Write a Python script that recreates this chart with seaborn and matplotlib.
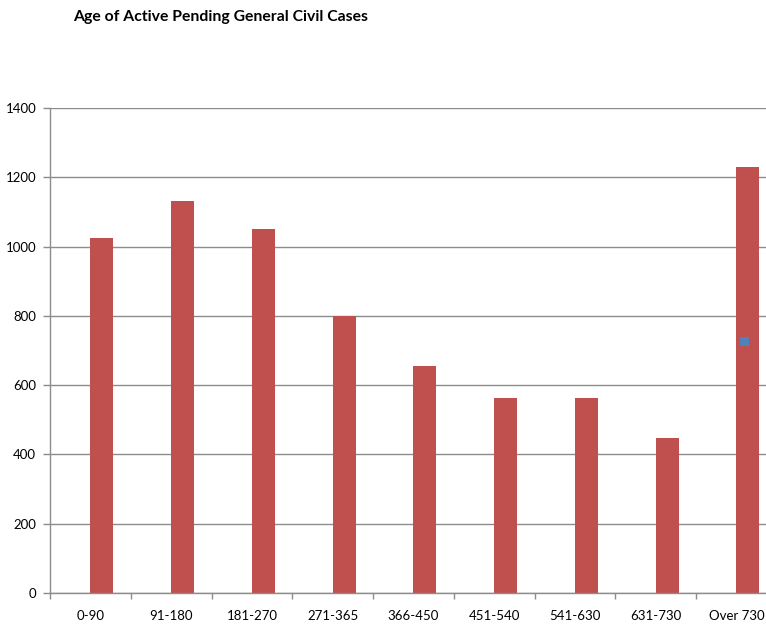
import matplotlib
matplotlib.use("Agg")
import matplotlib.pyplot as plt
from matplotlib.ticker import MultipleLocator, FixedLocator
import seaborn as sns
import pandas as pd

# Age buckets (days) and number of active pending general civil cases
categories = ["0-90", "91-180", "181-270", "271-365", "366-450",
              "451-540", "541-630", "631-730", "Over 730"]
case_counts = [1025, 1132, 1051, 800, 655, 563, 563, 447, 1230]
# secondary series: a single marker point on the last bucket
marker_category = "Over 730"
marker_value = 725

sns.set_theme(style="white")
plt.rcParams["font.family"] = ["Lato", "DejaVu Sans"]

W, H = 766, 624
fig = plt.figure(figsize=(W / 100, H / 100), dpi=100)

left_px, right_px, top_px, bottom_px = 50, 766, 108, 593
ax = fig.add_axes([left_px / W, 1 - bottom_px / H,
                   (right_px - left_px) / W, (bottom_px - top_px) / H])

# two series per category: an empty placeholder and the case counts,
# so the red bar sits just right of the category centre
df = pd.DataFrame({
    "bucket": categories * 2,
    "series": ["placeholder"] * len(categories) + ["cases"] * len(categories),
    "count": [0] * len(categories) + case_counts,
})
sns.barplot(data=df, x="bucket", y="count", hue="series",
            hue_order=["placeholder", "cases"], order=categories,
            palette={"placeholder": (1, 1, 1, 0), "cases": "#C0504D"},
            width=0.57, linewidth=0, saturation=1, legend=False, ax=ax)

# marker series
idx = categories.index(marker_category)
sns.scatterplot(x=[idx + 0.1], y=[marker_value], marker="s", s=40,
                color="#4F81BD", edgecolor="none", ax=ax, zorder=5)

ax.set_ylim(0, 1400)
cat_px = 80.75
ax.set_xlim(-0.5, -0.5 + (right_px - left_px) / cat_px)
ax.yaxis.set_major_locator(MultipleLocator(200))
ax.grid(axis="y", color="#8C8C8C", linewidth=1)
ax.set_axisbelow(True)

for side in ("top", "right"):
    ax.spines[side].set_visible(False)
for side in ("left", "bottom"):
    ax.spines[side].set_color("#8C8C8C")
    ax.spines[side].set_linewidth(1)

ax.set_xlabel("")
ax.set_ylabel("")
ax.tick_params(axis="y", which="major", left=True, length=5, width=1,
               color="#8C8C8C", pad=5, labelsize=9.5, labelcolor="#000000")
ax.tick_params(axis="x", which="major", bottom=True, length=0, pad=12,
               labelsize=9.5, labelcolor="#000000")
ax.xaxis.set_minor_locator(FixedLocator([k - 0.5 for k in range(len(categories) + 1)]))
ax.tick_params(axis="x", which="minor", bottom=True, length=4, width=1,
               color="#8C8C8C", direction="out")

fig.text(73 / W, 1 - 17 / H, "Age of Active Pending General Civil Cases",
         fontsize=11.3, fontweight="bold", ha="left", va="center",
         color="#000000")

fig.savefig("out.png", dpi=100, facecolor="white")
